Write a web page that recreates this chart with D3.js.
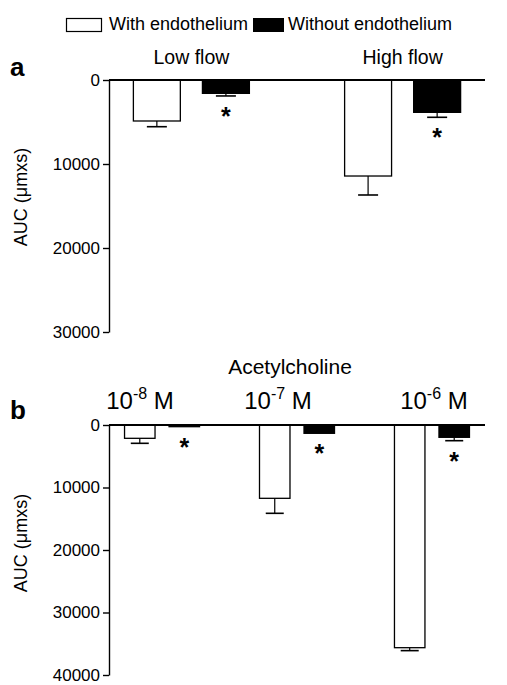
<!DOCTYPE html>
<html>
<head>
<meta charset="utf-8">
<script src="https://cdn.jsdelivr.net/npm/d3@7"></script>
<style>
  body { margin: 0; background: #fff; }
  svg { display: block; }
  text { font-family: "Liberation Sans", Arial, Helvetica, sans-serif; fill: #000; }
  .axis path, .axis line { stroke: #000; stroke-width: 1.4; }
  .axis text { font-size: 17px; }
</style>
</head>
<body>
<div id="chart"></div>
<script>
// ---- data ----
var series = ["With endothelium", "Without endothelium"];

// panel a : flow
var flowCats = ["Low flow", "High flow"];
var flowWith = [4880, 11430];
var flowWithErr = [680, 2260];
var flowWithout = [1590, 3850];
var flowWithoutErr = [310, 590];
var flowTicks = [0, 10000, 20000, 30000];

// panel b : acetylcholine
var achCats = ["-8", "-7", "-6"];   // exponent of 10 (M)
var achWith = [2130, 11730, 35630];
var achWithErr = [800, 2400, 470];
var achWithout = [270, 1330, 1970];
var achWithoutErr = [0, 0, 540];
var achTicks = [0, 10000, 20000, 30000, 40000];

// label nudges (layout only)
var achLabelShift = [-22, -19, 2];

var width = 507, height = 685;
var svg = d3.select("#chart").append("svg")
  .attr("width", width)
  .attr("height", height);

var fill = {"With endothelium": "#fff", "Without endothelium": "#000"};

// legend
var legend = svg.append("g");
legend.append("rect").attr("x", 66.5).attr("y", 18.5).attr("width", 35).attr("height", 13)
  .attr("fill", "#fff").attr("stroke", "#000").attr("stroke-width", 1.2);
legend.append("text").attr("x", 109).attr("y", 30).style("font-size", "18px").text(series[0]);
legend.append("rect").attr("x", 253).attr("y", 18).attr("width", 31).attr("height", 14).attr("fill", "#000");
legend.append("text").attr("x", 288).attr("y", 30).style("font-size", "18px").text(series[1]);

function makeRows(cats, w, we, wo, woe) {
  return cats.map(function(c, i) {
    return {cat: c, groups: [
      {name: series[0], value: w[i], err: we[i], star: false},
      {name: series[1], value: wo[i], err: woe[i], star: true}
    ]};
  });
}

function panel(opt) {
  var g = svg.append("g");
  var y = d3.scaleLinear().domain([0, opt.max]).range([opt.top, opt.bottom]);
  var x0 = d3.scalePoint().domain(opt.data.map(function(d) { return d.cat; }))
    .range([opt.left, opt.right]).padding(opt.pad);
  var x1 = d3.scaleBand().domain(series).range([-opt.half, opt.half])
    .paddingInner(opt.inner).paddingOuter(0);

  var yAxis = d3.axisLeft(y).tickValues(opt.ticks).tickFormat(d3.format("d"))
    .tickSizeInner(6).tickSizeOuter(0).tickPadding(3);
  g.append("g").attr("class", "axis")
    .attr("transform", "translate(" + opt.left + ",0)")
    .call(yAxis);

  var grp = g.selectAll(".grp").data(opt.data).enter().append("g")
    .attr("transform", function(d) { return "translate(" + x0(d.cat) + ",0)"; });

  var bar = grp.selectAll(".bar").data(function(d) { return d.groups; }).enter().append("g");

  // error bars (one-sided, downward)
  bar.filter(function(d) { return d.err > 0; }).each(function(d) {
    var s = d3.select(this);
    var cx = x1(d.name) + x1.bandwidth() / 2;
    s.append("line").attr("x1", cx).attr("x2", cx)
      .attr("y1", y(d.value)).attr("y2", y(d.value + d.err))
      .attr("stroke", "#000").attr("stroke-width", 1.2);
    s.append("line").attr("x1", cx - opt.cap).attr("x2", cx + opt.cap)
      .attr("y1", y(d.value + d.err)).attr("y2", y(d.value + d.err))
      .attr("stroke", "#000").attr("stroke-width", 1.6);
  });

  bar.append("rect")
    .attr("x", function(d) { return x1(d.name); })
    .attr("width", x1.bandwidth())
    .attr("y", y(0))
    .attr("height", function(d) { return y(d.value) - y(0); })
    .attr("fill", function(d) { return fill[d.name]; })
    .attr("stroke", "#000").attr("stroke-width", 1.3);

  bar.filter(function(d) { return d.star; }).append("text")
    .attr("x", function(d) { return x1(d.name) + x1.bandwidth() / 2; })
    .attr("y", function(d) { return y(d.value + d.err) + 29; })
    .attr("text-anchor", "middle")
    .style("font-size", "25px").style("font-weight", "bold")
    .text("*");

  // zero line across the top
  g.append("line").attr("x1", opt.left).attr("x2", opt.right)
    .attr("y1", y(0)).attr("y2", y(0))
    .attr("stroke", "#000").attr("stroke-width", 2);

  // y title
  g.append("text")
    .attr("transform", "translate(" + opt.titleX + "," + opt.titleY + ") rotate(-90)")
    .attr("text-anchor", "middle")
    .style("font-size", "18px")
    .text("AUC (\u03bcmxs)");

  // panel letter
  g.append("text").attr("x", 10).attr("y", opt.letterY)
    .style("font-size", "26px").style("font-weight", "bold").text(opt.letter);

  return {x0: x0, y: y, g: g};
}

var pa = panel({
  data: makeRows(flowCats, flowWith, flowWithErr, flowWithout, flowWithoutErr),
  max: 30000, ticks: flowTicks, top: 80, bottom: 332,
  left: 109, right: 485, pad: 0.39, half: 58, inner: 0.32, cap: 10,
  titleX: 27, titleY: 197, letter: "a", letterY: 76
});
pa.g.selectAll(".cat").data(flowCats).enter().append("text")
  .attr("x", function(d) { return pa.x0(d); })
  .attr("y", 64)
  .attr("text-anchor", "middle")
  .style("font-size", "19.5px")
  .text(function(d) { return d; });

var pb = panel({
  data: makeRows(achCats, achWith, achWithErr, achWithout, achWithoutErr),
  max: 40000, ticks: achTicks, top: 425, bottom: 675,
  left: 109, right: 485, pad: 0.393, half: 37.5, inner: 0.315, cap: 9,
  titleX: 27, titleY: 543, letter: "b", letterY: 419
});
pb.g.append("text").attr("x", 290).attr("y", 374).attr("text-anchor", "middle")
  .style("font-size", "21px").text("Acetylcholine");
var lab = pb.g.selectAll(".cat").data(achCats).enter().append("text")
  .attr("x", function(d, i) { return pb.x0(d) + achLabelShift[i]; })
  .attr("y", 409)
  .attr("text-anchor", "middle")
  .style("font-size", "24px");
lab.append("tspan").text("10");
lab.append("tspan").attr("dy", -10).style("font-size", "16px").text(function(d) { return d; });
lab.append("tspan").attr("dy", 10).text(" M");
</script>
</body>
</html>
